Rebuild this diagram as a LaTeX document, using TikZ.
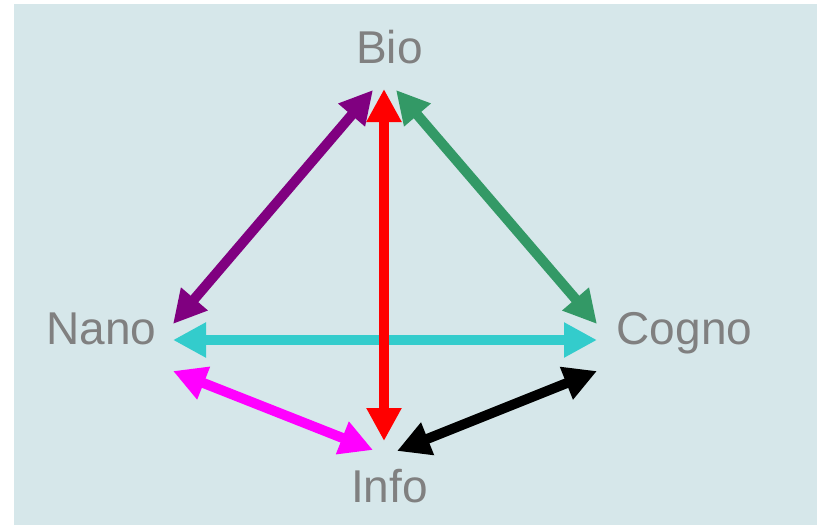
\documentclass[tikz,border=0pt]{standalone}
\usepackage{fontspec}
\setmainfont{Liberation Sans}
\usetikzlibrary{arrows.meta}
\definecolor{bgc}{HTML}{D6E7EA}
\definecolor{txt}{HTML}{808080}
\definecolor{cpurple}{HTML}{800080}
\definecolor{cred}{HTML}{FF0000}
\definecolor{cgreen}{HTML}{339966}
\definecolor{ccyan}{HTML}{33CCCC}
\definecolor{cmag}{HTML}{FF00FF}
\tikzset{
  lbl/.style={anchor=base, inner sep=0pt, text=txt, font=\fontsize{46}{52}\selectfont},
  dbl/.style={line width=10pt, >={Triangle[length=33pt,width=33pt]}, <->}
}
\begin{document}
\begin{tikzpicture}[x=1pt,y=-1pt]
\useasboundingbox (0,0) rectangle (817,525);
\fill[bgc] (14,4) rectangle (817,525);
\node[lbl] (bio) at (389.5,63) {Bio};
\node[lbl] (nano) at (101.5,344) {Nano};
\node[lbl] (cogno) at (684.5,344) {Cogno};
\node[lbl] (info) at (389.5,502) {Info};
% endpoints
\coordinate (bioL) at (373,90);
\coordinate (bioM) at (384,89);
\coordinate (bioR) at (396,90);
\coordinate (nanoT) at (173,324);
\coordinate (nanoM) at (173,340);
\coordinate (nanoB) at (173,371);
\coordinate (cognoT) at (597,324);
\coordinate (cognoM) at (597,340);
\coordinate (cognoB) at (597,371);
\coordinate (infoL) at (373,450);
\coordinate (infoM) at (384,441);
\coordinate (infoR) at (397,451);
\draw[dbl, cpurple] (nanoT) -- (bioL);
\draw[dbl, cgreen] (bioR) -- (cognoT);
\draw[dbl, ccyan] (nanoM) -- (cognoM);
\draw[dbl, cred] (bioM) -- (infoM);
\draw[dbl, cmag] (nanoB) -- (infoL);
\draw[dbl, black] (infoR) -- (cognoB);
\end{tikzpicture}
\end{document}
